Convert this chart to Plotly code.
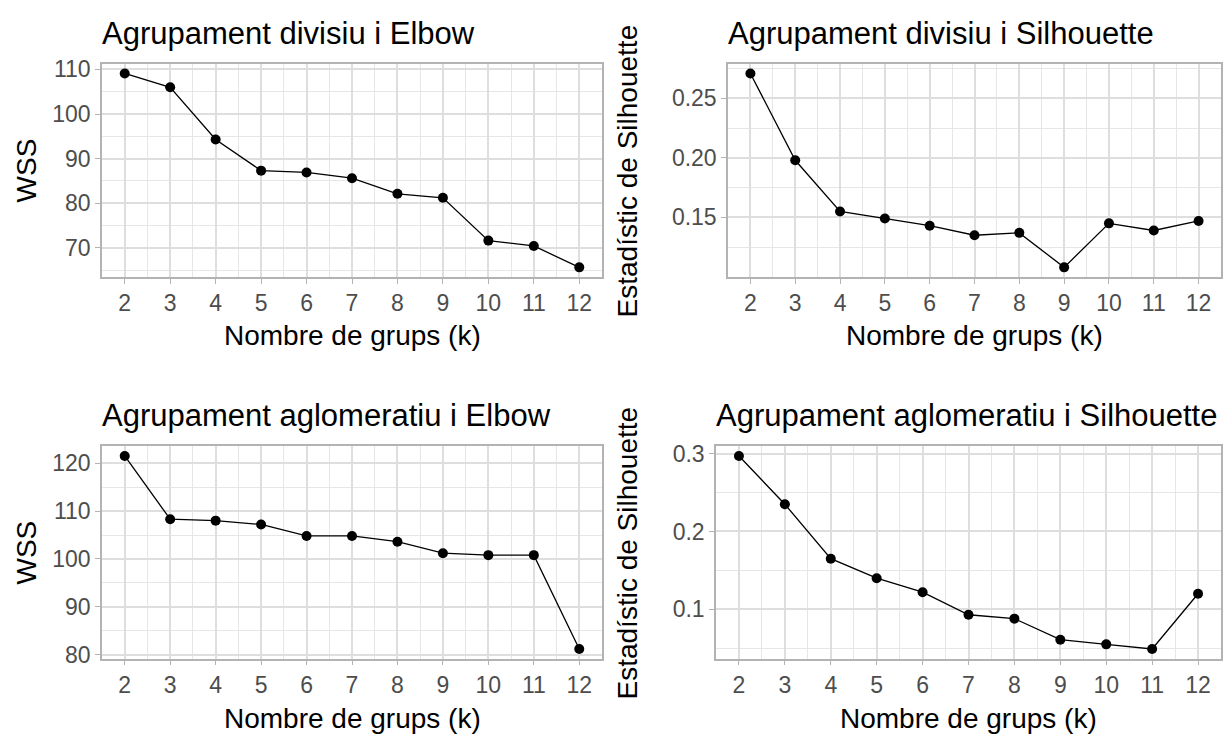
import plotly.graph_objects as go

# Number of clusters evaluated
k_values = [2, 3, 4, 5, 6, 7, 8, 9, 10, 11, 12]

# Divisive clustering
wss_divisiu = [109.1, 106.0, 94.3, 87.3, 86.9, 85.6, 82.1, 81.2, 71.6, 70.4, 65.6]
sil_divisiu = [0.271, 0.198, 0.155, 0.149, 0.143, 0.135, 0.137, 0.108, 0.145, 0.139, 0.147]

# Agglomerative clustering
wss_aglom = [121.5, 108.3, 108.0, 107.2, 104.8, 104.8, 103.6, 101.2, 100.8, 100.8, 81.2]
sil_aglom = [0.297, 0.235, 0.165, 0.140, 0.122, 0.093, 0.088, 0.061, 0.055, 0.049, 0.120]

titles = [
    "Agrupament divisiu i Elbow",
    "Agrupament divisiu i Silhouette",
    "Agrupament aglomeratiu i Elbow",
    "Agrupament aglomeratiu i Silhouette",
]
x_title = "Nombre de grups (k)"
y_titles = ["WSS", "Estadístic de Silhouette", "WSS", "Estadístic de Silhouette"]

W, H = 1223, 743
FONT = "Liberation Sans, Arial, sans-serif"
TICK_COL = "#4D4D4D"
GRID_MAJ = "#DEDEDE"
GRID_MIN = "#E6E6E6"
BORDER = "#B3B3B3"


def px_x(p):
    return p / W


def px_y(p):
    return 1 - p / H


# panel boxes in pixels: (left, right, top, bottom)
panels = [
    (102, 602, 58, 276),
    (728, 1221, 58, 276),
    (102, 602, 449, 666),
    (716, 1221, 449, 666),
]
series = [wss_divisiu, sil_divisiu, wss_aglom, sil_aglom]
y_ticks = [
    [70, 80, 90, 100, 110],
    [0.15, 0.20, 0.25],
    [80, 90, 100, 110, 120],
    [0.1, 0.2, 0.3],
]
y_fmt = ["d", ".2f", "d", ".1f"]
y_minor = [5, 0.025, 5, 0.05]


def expanded(vals, frac=0.05):
    lo, hi = min(vals), max(vals)
    pad = (hi - lo) * frac
    return [lo - pad, hi + pad]


fig = go.Figure()
layout = dict(
    width=W,
    height=H,
    margin=dict(l=0, r=0, t=0, b=0),
    paper_bgcolor="white",
    plot_bgcolor="white",
    showlegend=False,
    font=dict(family=FONT, color="black"),
    annotations=[],
)

for i, (box, vals) in enumerate(zip(panels, series)):
    n = i + 1
    xa = "xaxis" if n == 1 else f"xaxis{n}"
    ya = "yaxis" if n == 1 else f"yaxis{n}"
    xr = "x" if n == 1 else f"x{n}"
    yr = "y" if n == 1 else f"y{n}"
    left, right, top, bottom = box

    fig.add_trace(go.Scatter(
        x=k_values, y=vals, mode="lines+markers",
        line=dict(color="black", width=1.3),
        marker=dict(color="black", size=10),
        xaxis=xr, yaxis=yr, cliponaxis=False,
    ))

    layout[xa] = dict(
        domain=[px_x(left), px_x(right)],
        anchor=yr,
        range=[1.5, 12.5],
        tickvals=k_values,
        ticktext=[str(k) for k in k_values],
        ticks="outside", ticklen=5, tickcolor=BORDER, tickwidth=1.3,
        tickfont=dict(size=23, color=TICK_COL, family=FONT),
        showgrid=True, gridcolor=GRID_MAJ, gridwidth=1.6,
        minor=dict(tickvals=[k + 0.5 for k in k_values[:-1]] + [1.5, 12.5],
                   showgrid=True, gridcolor=GRID_MIN, gridwidth=1),
        showline=True, linecolor=BORDER, linewidth=1.5, mirror=True,
        zeroline=False, fixedrange=True,
    )
    layout[ya] = dict(
        domain=[px_y(bottom), px_y(top)],
        anchor=xr,
        range=expanded(vals),
        tickvals=y_ticks[i],
        tickformat=y_fmt[i],
        ticks="outside", ticklen=5, tickcolor=BORDER, tickwidth=1.3,
        tickfont=dict(size=23, color=TICK_COL, family=FONT),
        showgrid=True, gridcolor=GRID_MAJ, gridwidth=1.6,
        minor=dict(dtick=y_minor[i], tick0=0, showgrid=True,
                   gridcolor=GRID_MIN, gridwidth=1),
        showline=True, linecolor=BORDER, linewidth=1.5, mirror=True,
        zeroline=False, fixedrange=True,
    )

    # panel title
    title_y = 27 if top < 300 else 417
    layout["annotations"].append(dict(
        text=titles[i], xref="paper", yref="paper",
        x=px_x(left - 2), y=px_y(title_y),
        xanchor="left", yanchor="middle", showarrow=False,
        font=dict(size=31, color="black", family=FONT),
    ))
    # x-axis title
    xt_y = 336 if top < 300 else 727
    layout["annotations"].append(dict(
        text=x_title, xref="paper", yref="paper",
        x=px_x((left + right) / 2), y=px_y(xt_y),
        xanchor="center", yanchor="middle", showarrow=False,
        font=dict(size=28, color="black", family=FONT),
    ))
    # y-axis title
    yt_x = 26 if left < 300 else 627
    layout["annotations"].append(dict(
        text=y_titles[i], xref="paper", yref="paper",
        x=px_x(yt_x), y=px_y((top + bottom) / 2),
        xanchor="center", yanchor="middle", textangle=-90, showarrow=False,
        font=dict(size=28, color="black", family=FONT),
    ))

fig.update_layout(**layout)
fig.write_html("out.html")
